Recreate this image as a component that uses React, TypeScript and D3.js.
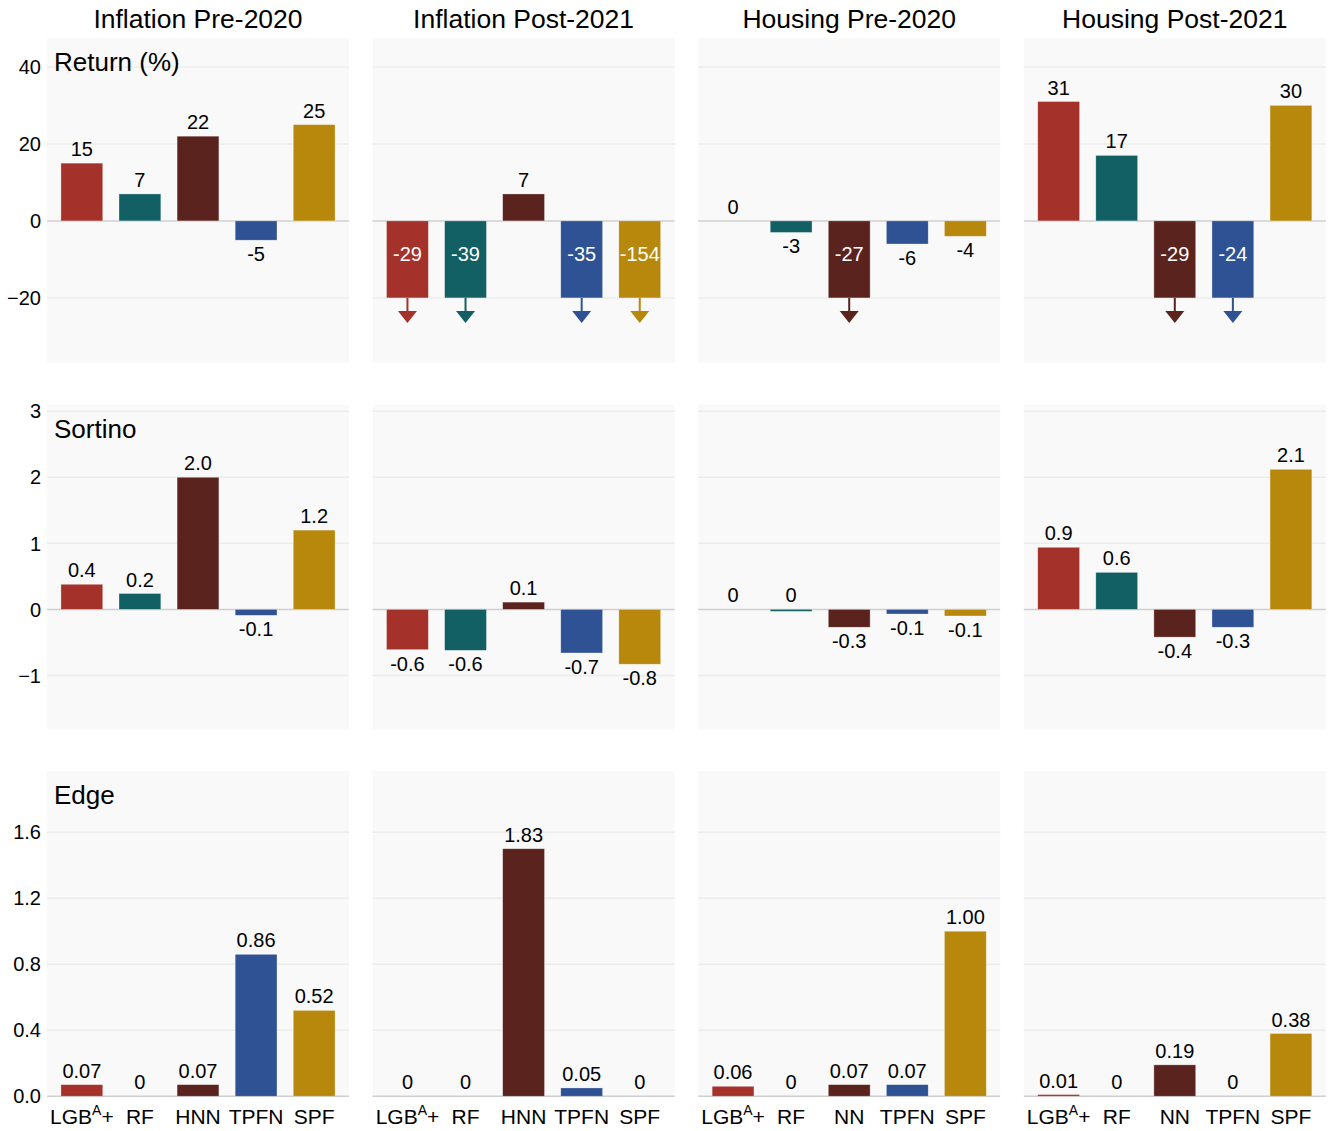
import * as d3 from 'd3'

// ---- data ----
const panels = ['Inflation Pre-2020', 'Inflation Post-2021', 'Housing Pre-2020', 'Housing Post-2021']
const modelsInflation = ['LGBA+', 'RF', 'HNN', 'TPFN', 'SPF']
const modelsHousing = ['LGBA+', 'RF', 'NN', 'TPFN', 'SPF']
const colors = ['#A5322A', '#136064', '#5A231E', '#2E5293', '#B8880C']

const returnInfPre = [15, 7, 22, -5, 25]
const returnInfPost = [-29, -39, 7, -35, -154]
const returnHouPre = [0, -3, -27, -6, -4]
const returnHouPost = [31, 17, -29, -24, 30]

const sortinoInfPre = [0.38, 0.24, 2.0, -0.09, 1.2]
const sortinoInfPost = [-0.61, -0.62, 0.11, -0.66, -0.83]
const sortinoHouPre = [0, -0.03, -0.27, -0.07, -0.1]
const sortinoHouPost = [0.94, 0.56, -0.42, -0.27, 2.12]

const edgeInfPre = [0.07, 0, 0.07, 0.86, 0.52]
const edgeInfPost = [0, 0, 1.83, 0.05, 0]
const edgeHouPre = [0.06, 0, 0.07, 0.07, 1.0]
const edgeHouPost = [0.01, 0, 0.19, 0, 0.38]

const returnTicks = [-20, 0, 20, 40]
const sortinoTicks = [-1, 0, 1, 2, 3]
const edgeTicks = [0, 0.4, 0.8, 1.2, 1.6]

interface Row {
  title: string
  values: number[][]
  domain: [number, number]
  ticks: number[]
  tickFmt: (v: number) => string
  fmt: (v: number) => string
  clipLow?: number
  clipHigh?: number
}

const zeroSafe = (s: string) => (Number(s) === 0 ? '0' : s)
const minus = (v: number) => (v < 0 ? '\u2212' + Math.abs(v) : String(v))

const rows: Row[] = [
  {
    title: 'Return (%)',
    values: [returnInfPre, returnInfPost, returnHouPre, returnHouPost],
    domain: [-36.9, 47.5],
    ticks: returnTicks,
    tickFmt: minus,
    fmt: (v) => zeroSafe(String(Math.round(v))),
    clipLow: -20,
  },
  {
    title: 'Sortino',
    values: [sortinoInfPre, sortinoInfPost, sortinoHouPre, sortinoHouPost],
    domain: [-1.82, 3.1],
    ticks: sortinoTicks,
    tickFmt: minus,
    fmt: (v) => zeroSafe(v.toFixed(1)),
  },
  {
    title: 'Edge',
    values: [edgeInfPre, edgeInfPost, edgeHouPre, edgeHouPost],
    domain: [0, 1.97],
    ticks: edgeTicks,
    tickFmt: (v) => v.toFixed(1),
    fmt: (v) => zeroSafe(v.toFixed(2)),
    clipHigh: 1.5,
  },
]

const FONT = "'Liberation Sans', Arial, Helvetica, sans-serif"
const W = 1330
const H = 1131
const left0 = 47
const colStep = 325.6
const panelW = 302
const top0 = 38
const rowStep = 366.6
const panelH = 325

const ModelLabel = ({ name, x, y }: { name: string; x: number; y: number }) => {
  if (name === 'LGBA+') {
    return (
      <text x={x} y={y} textAnchor="middle" fontSize={21}>
        LGB<tspan fontSize={14} dy={-9}>A</tspan><tspan dy={9}>+</tspan>
      </text>
    )
  }
  return (
    <text x={x} y={y} textAnchor="middle" fontSize={21}>
      {name}
    </text>
  )
}

export default function App() {
  return (
    <svg
      width={W}
      height={H}
      style={{ position: 'absolute', left: 0, top: 0, display: 'block' }}
      fontFamily={FONT}
    >
      <rect width={W} height={H} fill="#fff" />
      {panels.map((p, c) => (
        <text key={p} x={left0 + c * colStep + panelW / 2} y={28} textAnchor="middle" fontSize={26.5}>
          {p}
        </text>
      ))}
      {rows.map((row, r) => {
        const top = top0 + r * rowStep
        const y = d3.scaleLinear().domain(row.domain).range([top + panelH, top])
        const y0 = y(0)
        return (
          <g key={row.title}>
            {row.ticks.map((t) => (
              <text key={t} x={41} y={y(t)} dy="0.36em" textAnchor="end" fontSize={20}>
                {row.tickFmt(t)}
              </text>
            ))}
            {row.values.map((vals, c) => {
              const left = left0 + c * colStep
              const x = d3
                .scaleBand<number>()
                .domain(d3.range(vals.length))
                .range([left, left + panelW])
                .paddingInner(0.28)
                .paddingOuter(0.24)
              const bw = x.bandwidth()
              const names = c < 2 ? modelsInflation : modelsHousing
              return (
                <g key={c}>
                  <rect x={left} y={top} width={panelW} height={panelH} fill="#F9F9F9" />
                  {row.ticks
                    .filter((t) => t !== 0)
                    .map((t) => (
                      <line key={t} x1={left} x2={left + panelW} y1={y(t)} y2={y(t)} stroke="#ECECEC" strokeWidth={1.5} />
                    ))}
                  <line x1={left} x2={left + panelW} y1={y0} y2={y0} stroke="#CFCFCF" strokeWidth={1.5} />
                  {vals.map((v, i) => {
                    const lowClip = row.clipLow !== undefined && v < row.clipLow
                    const highClip = row.clipHigh !== undefined && v > row.clipHigh
                    const dv = lowClip ? row.clipLow! : highClip ? row.clipHigh! : v
                    const yv = y(dv)
                    const bx = x(i)!
                    const cx = bx + bw / 2
                    const label = row.fmt(v)
                    const below = dv < 0 && label !== '0'
                    return (
                      <g key={i}>
                        <rect
                          x={bx}
                          y={Math.min(yv, y0)}
                          width={bw}
                          height={Math.abs(yv - y0)}
                          fill={colors[i]}
                          stroke="#fff"
                          strokeOpacity={0.5}
                          strokeWidth={0.6}
                        />
                        {lowClip ? (
                          <>
                            <text x={cx} y={y0 + (yv - y0) * 0.52} textAnchor="middle" fontSize={20} fill="#fff">
                              {label}
                            </text>
                            <line x1={cx} x2={cx} y1={yv} y2={yv + 14} stroke={colors[i]} strokeWidth={2} />
                            <path d={`M${cx - 9.5},${yv + 13} L${cx + 9.5},${yv + 13} L${cx},${yv + 25} Z`} fill={colors[i]} />
                          </>
                        ) : below ? (
                          <text x={cx} y={yv + 21} textAnchor="middle" fontSize={20}>
                            {label}
                          </text>
                        ) : (
                          <text x={cx} y={Math.min(yv, y0) - 7} textAnchor="middle" fontSize={20}>
                            {label}
                          </text>
                        )}
                        {r === rows.length - 1 && <ModelLabel name={names[i]} x={cx} y={1124} />}
                      </g>
                    )
                  })}
                </g>
              )
            })}
            <text x={54} y={top + 33} fontSize={26}>
              {row.title}
            </text>
          </g>
        )
      })}
    </svg>
  )
}
